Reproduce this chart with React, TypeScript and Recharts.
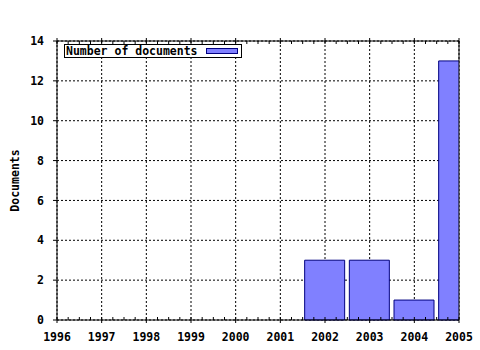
import React from "react";
import {
  BarChart,
  Bar,
  XAxis,
  YAxis,
  CartesianGrid,
  ReferenceLine,
} from "recharts";

const years = [1996, 1997, 1998, 1999, 2000, 2001, 2002, 2003, 2004, 2005];
const documents = [0, 0, 0, 0, 0, 0, 3, 3, 1, 13];
const yTicks = [0, 2, 4, 6, 8, 10, 12, 14];
const seriesName = "Number of documents";
const yLabel = "Documents";

// quarter-year ticks for the minor marks along the top and bottom axes
const quarterTicks: number[] = [];
for (let i = 0; i < years.length; i++) {
  quarterTicks.push(years[i]);
  if (i < years.length - 1) {
    quarterTicks.push(years[i] + 0.25, years[i] + 0.5, years[i] + 0.75);
  }
}

const data = years.map((year, i) => ({ year, docs: documents[i] }));

const FONT = "'DejaVu Sans Mono', 'Liberation Mono', monospace";
const FILL = "#8080ff";
const EDGE = "#000080";

const BottomTick = ({ x, y, payload }: any) => {
  const major = Number.isInteger(payload.value);
  if (!major) {
    return <line x1={x} x2={x} y1={y} y2={y - 3} stroke="#000" />;
  }
  return (
    <g>
      <line x1={x} x2={x} y1={y - 3} y2={y + 3} stroke="#000" />
      <text
        x={x}
        y={y + 21}
        textAnchor="middle"
        fontFamily={FONT}
        fontWeight="bold"
        fontSize={11.5}
        fill="#000"
      >
        {payload.value}
      </text>
    </g>
  );
};

const TopTick = ({ x, y, payload }: any) => {
  const major = Number.isInteger(payload.value);
  if (!major) {
    return <line x1={x} x2={x} y1={y} y2={y + 3} stroke="#000" />;
  }
  return <line x1={x} x2={x} y1={y - 3} y2={y + 3} stroke="#000" />;
};

const LegendBox = () => (
  <div
    style={{
      position: "absolute",
      left: 64,
      top: 44,
      width: 176,
      height: 12,
      border: "1px solid #000",
      background: "#fff",
      display: "flex",
      alignItems: "center",
      fontFamily: FONT,
      fontWeight: "bold",
      fontSize: 11.5,
      lineHeight: "12px",
      whiteSpace: "nowrap",
    }}
  >
    <span style={{ marginLeft: 1 }}>{seriesName}</span>
    <span
      style={{
        display: "inline-block",
        width: 30,
        height: 4,
        marginLeft: 8,
        background: FILL,
        border: `1px solid ${EDGE}`,
      }}
    />
  </div>
);

export default function App() {
  return (
    <div style={{ position: "absolute", left: 0, top: 0, width: 480, height: 350, background: "#fff" }}>
      <BarChart
        width={480}
        height={350}
        data={data}
        margin={{ top: 0, right: 21, left: 0, bottom: 0 }}
      >
        <XAxis xAxisId="grid" dataKey="year" type="number" domain={[1996, 2005]} ticks={years} hide />
        <CartesianGrid
          xAxisId="grid"
          stroke="#000"
          strokeDasharray="2 2"
          strokeWidth={1}
        />
        <XAxis
          xAxisId="bottom"
          dataKey="year"
          type="number"
          domain={[1996, 2005]}
          ticks={quarterTicks}
          interval={0}
          allowDataOverflow
          height={30}
          axisLine={{ stroke: "#000" }}
          tickLine={false}
          tickSize={0}
          tickMargin={0}
          tick={<BottomTick />}
        />
        <XAxis
          xAxisId="top"
          orientation="top"
          dataKey="year"
          type="number"
          domain={[1996, 2005]}
          ticks={quarterTicks}
          interval={0}
          height={41}
          axisLine={{ stroke: "#000" }}
          tickLine={false}
          tickSize={0}
          tickMargin={0}
          tick={<TopTick />}
        />
        <YAxis
          domain={[0, 14]}
          ticks={yTicks}
          interval={0}
          width={57}
          axisLine={{ stroke: "#000" }}
          tickLine={{ stroke: "#000" }}
          tickSize={4}
          tickMargin={9}
          tick={{ fill: "#000", fontFamily: FONT, fontWeight: "bold", fontSize: 11.5 }}
          label={{
            value: yLabel,
            angle: -90,
            position: "insideLeft",
            offset: 15,
            style: { fill: "#000", fontFamily: FONT, fontWeight: "bold", fontSize: 11.5, textAnchor: "middle" },
          }}
        />
        <ReferenceLine xAxisId="bottom" x={2005} stroke="#000" />
        <Bar
          xAxisId="bottom"
          dataKey="docs"
          name={seriesName}
          barSize={40}
          fill={FILL}
          stroke={EDGE}
          strokeWidth={1}
          isAnimationActive={false}
        />
      </BarChart>
      <LegendBox />
    </div>
  );
}
